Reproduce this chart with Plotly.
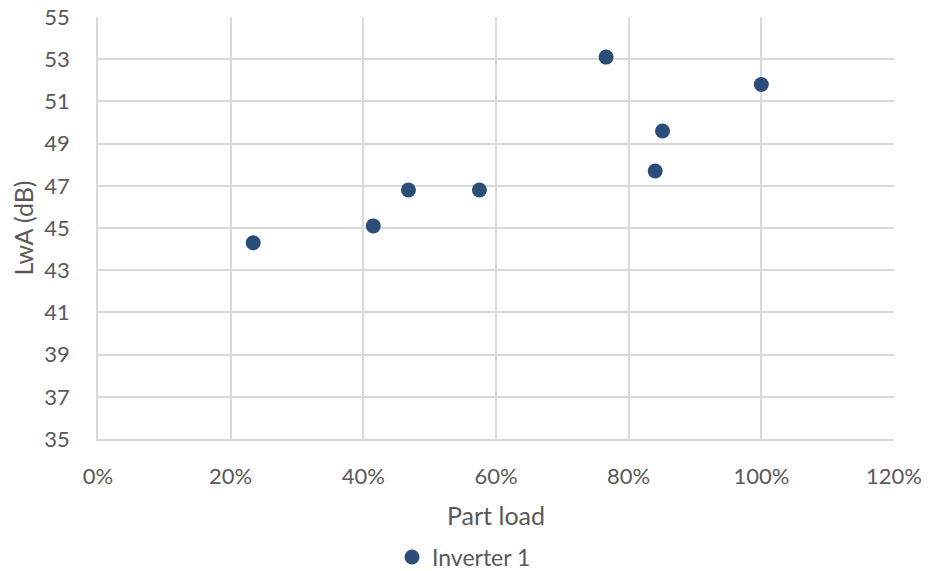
import plotly.graph_objects as go

part_load = [0.234, 0.415, 0.468, 0.575, 0.766, 0.851, 0.840, 1.000]
lwa_db = [44.3, 45.1, 46.8, 46.8, 53.1, 49.6, 47.7, 51.8]
series_name = "Inverter 1"

x_ticks = [0, 0.2, 0.4, 0.6, 0.8, 1.0, 1.2]
x_labels = ["0%", "20%", "40%", "60%", "80%", "100%", "120%"]
y_ticks = [35, 37, 39, 41, 43, 45, 47, 49, 51, 53, 55]

font_family = "Lato, Noto Sans, sans-serif"
grey = "#595959"
grid = "#d9d9d9"

fig = go.Figure()
fig.add_trace(go.Scatter(
    x=part_load, y=lwa_db, mode="markers", name=series_name,
    marker=dict(size=15, color="#2c4d78", line=dict(width=0)),
))

fig.update_layout(
    width=928, height=571,
    margin=dict(l=98, r=34, t=17, b=132, autoexpand=False),
    paper_bgcolor="white", plot_bgcolor="white",
    font=dict(family=font_family, color=grey, size=22),
    showlegend=True,
    legend=dict(orientation="h", x=0.5, xanchor="center", xref="container",
                y=1 - 557 / 571, yanchor="middle", yref="container",
                font=dict(size=23, color=grey), itemwidth=30),
    xaxis=dict(
        range=[0, 1.2], tickvals=x_ticks, ticktext=x_labels,
        showgrid=True, gridcolor=grid, gridwidth=1.5,
        zeroline=False, showline=True, linecolor=grid, linewidth=1.5,
        ticks="outside", ticklen=17, tickcolor="rgba(0,0,0,0)",
        tickfont=dict(size=22, color=grey), automargin=False,
        title=dict(text="Part load", font=dict(size=25, color=grey), standoff=19),
        fixedrange=True,
    ),
    yaxis=dict(
        range=[35, 55], tickvals=y_ticks,
        showgrid=True, gridcolor=grid, gridwidth=1.5,
        zeroline=False, showline=True, linecolor=grid, linewidth=1.5,
        ticks="outside", ticklen=22, tickcolor="rgba(0,0,0,0)",
        tickfont=dict(size=22, color=grey), automargin=False,
        title=dict(text="LwA (dB)", font=dict(size=25, color=grey), standoff=4),
        fixedrange=True,
    ),
)

fig.write_html("out.html")
